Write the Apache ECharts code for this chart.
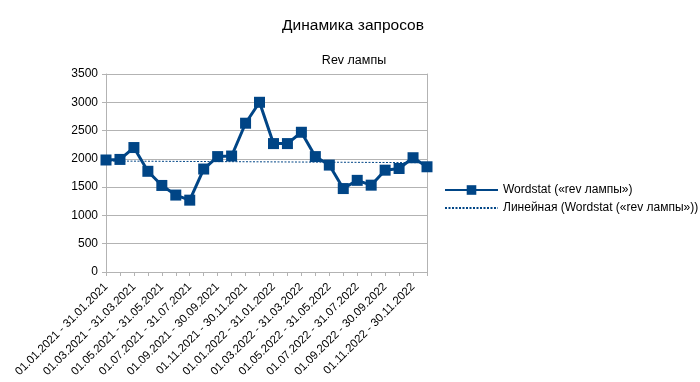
<!DOCTYPE html>
<html><head><meta charset="utf-8">
<script src="https://cdn.jsdelivr.net/npm/echarts@6/dist/echarts.min.js"></script>
<style>html,body{margin:0;padding:0;background:#fff}#c{width:700px;height:382px}</style>
</head><body><div id="c"></div>
<script>
const categories = [
  "01.01.2021 - 31.01.2021","01.02.2021 - 28.02.2021","01.03.2021 - 31.03.2021","01.04.2021 - 30.04.2021",
  "01.05.2021 - 31.05.2021","01.06.2021 - 30.06.2021","01.07.2021 - 31.07.2021","01.08.2021 - 31.08.2021",
  "01.09.2021 - 30.09.2021","01.10.2021 - 31.10.2021","01.11.2021 - 30.11.2021","01.12.2021 - 31.12.2021",
  "01.01.2022 - 31.01.2022","01.02.2022 - 28.02.2022","01.03.2022 - 31.03.2022","01.04.2022 - 30.04.2022",
  "01.05.2022 - 31.05.2022","01.06.2022 - 30.06.2022","01.07.2022 - 31.07.2022","01.08.2022 - 31.08.2022",
  "01.09.2022 - 30.09.2022","01.10.2022 - 31.10.2022","01.11.2022 - 30.11.2022","01.12.2022 - 31.12.2022"
];
const wordstat = [1980,1990,2200,1780,1530,1360,1270,1820,2040,2050,2630,3000,2270,2270,2470,2040,1890,1475,1620,1535,1800,1830,2020,1860];
const trendEnds = [1962, 1932];
const yTicks = {min: 0, max: 3500, interval: 500};

const chart = echarts.init(document.getElementById('c'));
const font = '"Liberation Sans", Arial, sans-serif';
chart.setOption({
  animation: false,
  textStyle: {fontFamily: font},
  title: [
    {text: 'Динамика запросов', left: 348, top: 13, textAlign: 'center',
     textStyle: {fontFamily: font, fontSize: 15.5, fontWeight: 'normal', color: '#000'}},
    {text: 'Rev лампы', left: 349, top: 49, textAlign: 'center',
     textStyle: {fontFamily: font, fontSize: 12.5, fontWeight: 'normal', color: '#000'}}
  ],
  grid: {left: 106, right: 273, top: 74, bottom: 110, show: false},
  legend: {
    orient: 'vertical', left: 439, top: 179, itemWidth: 53, itemHeight: 12, itemGap: 6,
    textStyle: {fontFamily: font, fontSize: 12, color: '#000'},
    data: [
      {name: 'Wordstat («rev лампы»)'},
      {name: 'Линейная (Wordstat («rev лампы»))', itemStyle: {opacity: 0}}
    ]
  },
  xAxis: {
    type: 'category', data: categories, boundaryGap: false,
    axisLine: {lineStyle: {color: '#b3b3b3'}},
    axisTick: {show: true, alignWithLabel: true, interval: 0, length: 4, lineStyle: {color: '#b3b3b3'}},
    axisLabel: {interval: 1, rotate: 45, fontSize: 11.5, color: '#000', fontFamily: font, margin: 13},
    splitLine: {show: false}
  },
  yAxis: [{
    type: 'value', min: yTicks.min, max: yTicks.max, interval: yTicks.interval,
    axisLine: {show: true, lineStyle: {color: '#b3b3b3'}},
    axisTick: {show: true, length: 4, lineStyle: {color: '#b3b3b3'}},
    axisLabel: {fontSize: 12, color: '#000', fontFamily: font, margin: 8, formatter: v => String(v)},
    splitLine: {lineStyle: {color: '#b3b3b3'}}
  }, {
    type: 'value', min: yTicks.min, max: yTicks.max, interval: yTicks.interval, position: 'right',
    axisLine: {show: true, lineStyle: {color: '#b3b3b3'}},
    axisTick: {show: false}, axisLabel: {show: false}, splitLine: {show: false}
  }],
  series: [
    {
      name: 'Wordstat («rev лампы»)', type: 'line', data: wordstat,
      symbol: 'rect', symbolSize: 11, showAllSymbol: true,
      lineStyle: {color: '#004586', width: 3},
      itemStyle: {color: '#004586'}, z: 3
    },
    {
      name: 'Линейная (Wordstat («rev лампы»))', type: 'line',
      data: [[categories[0], trendEnds[0]], [categories[categories.length - 1], trendEnds[1]]],
      symbol: 'none',
      lineStyle: {color: '#004586', width: 1, type: [2, 1.5]},
      itemStyle: {color: '#004586'}, z: 2
    }
  ]
});
</script></body></html>
